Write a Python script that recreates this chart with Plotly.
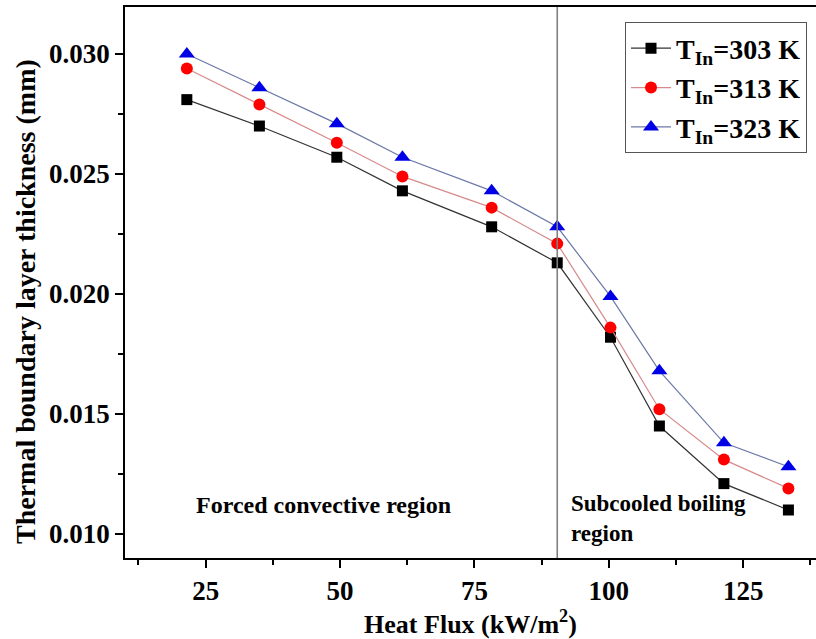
import plotly.graph_objects as go

# Heat flux (kW/m^2) at each measurement point
heat_flux = [21.5, 35.0, 49.4, 61.6, 78.2, 90.4, 100.3, 109.4, 121.4, 133.4]

# Thermal boundary layer thickness (mm) for each inlet temperature
thk_303 = [0.0281, 0.0270, 0.0257, 0.0243, 0.0228, 0.0213, 0.0182, 0.0145, 0.0121, 0.0110]
thk_313 = [0.0294, 0.0279, 0.0263, 0.0249, 0.0236, 0.0221, 0.0186, 0.0152, 0.0131, 0.0119]
thk_323 = [0.0300, 0.0286, 0.0271, 0.0257, 0.0243, 0.0228, 0.0199, 0.0168, 0.0138, 0.0128]

series_names = ["<b>T<sub>In</sub>=303 K</b>", "<b>T<sub>In</sub>=313 K</b>", "<b>T<sub>In</sub>=323 K</b>"]

# Onset of subcooled boiling
transition_flux = 90.4

FONT = "Liberation Serif"

fig = go.Figure()

styles = [
    (thk_303, "#333333", "black", "square", 11),
    (thk_313, "#d88a8a", "#ff0000", "circle", 12),
    (thk_323, "#6a78a8", "#0000e6", "triangle-up", 14),
]
for (vals, lcol, mcol, sym, msize), name in zip(styles, series_names):
    fig.add_trace(go.Scatter(
        x=heat_flux, y=vals, mode="lines+markers", name=name,
        line=dict(color=lcol, width=1.2),
        marker=dict(color=mcol, symbol=sym, size=msize, line=dict(width=0)),
    ))

fig.add_shape(type="line", xref="x", yref="paper",
              x0=transition_flux, x1=transition_flux, y0=0, y1=1,
              line=dict(color="#808080", width=1.6))

fig.add_annotation(x=0.287, xref="paper", y=0.0112, yref="y",
                   text="<b>Forced convective region</b>", showarrow=False,
                   font=dict(family=FONT, size=24, color="black"),
                   xanchor="center", yanchor="middle")
fig.add_annotation(x=92.6, xref="x", y=0.01065, yref="y",
                   text="<b>Subcooled boiling<br>region</b>", showarrow=False,
                   font=dict(family=FONT, size=23, color="black"),
                   xanchor="left", yanchor="middle", align="left")

# Y-axis title, placed as a rotated label
fig.add_annotation(x=-0.145, xref="paper", y=0.466, yref="paper",
                   text="<b>Thermal boundary layer thickness (mm)</b>",
                   textangle=-90, showarrow=False,
                   font=dict(family=FONT, size=28, color="black"),
                   xanchor="center", yanchor="middle")

fig.update_layout(
    width=816, height=639,
    margin=dict(l=125, r=0, t=7, b=81),
    paper_bgcolor="white", plot_bgcolor="white",
    showlegend=True,
    legend=dict(x=0.7236, y=0.972, xanchor="left", yanchor="top",
                bordercolor="#555555", borderwidth=1, bgcolor="white",
                font=dict(family=FONT, size=28, color="black"),
                itemwidth=40, tracegroupgap=0),
    font=dict(family=FONT, color="black"),
)

fig.update_xaxes(
    range=[10, 138.53], tick0=0, dtick=25,
    ticks="outside", ticklen=8, tickwidth=1.5, tickcolor="black",
    minor=dict(dtick=12.5, ticks="outside", ticklen=5, tickwidth=1.5, tickcolor="black"),
    showline=True, linecolor="black", linewidth=1.8, mirror=True,
    showgrid=False, zeroline=False,
    tickfont=dict(family=FONT, size=27, color="black"),
    title=dict(text="<b>Heat Flux (kW/m<sup>2</sup>)</b>",
               font=dict(family=FONT, size=26, color="black"), standoff=6),
    tickprefix="<b>", ticksuffix="</b>",
)
fig.update_yaxes(
    range=[0.009, 0.03196], tick0=0, dtick=0.005, tickformat=".3f",
    ticks="outside", ticklen=8, tickwidth=1.5, tickcolor="black",
    minor=dict(dtick=0.0025, ticks="outside", ticklen=5, tickwidth=1.5, tickcolor="black"),
    showline=True, linecolor="black", linewidth=1.8, mirror=False,
    showgrid=False, zeroline=False,
    tickfont=dict(family=FONT, size=27, color="black"),
    tickprefix="<b>", ticksuffix="</b>",
)

fig.write_html("out.html")
